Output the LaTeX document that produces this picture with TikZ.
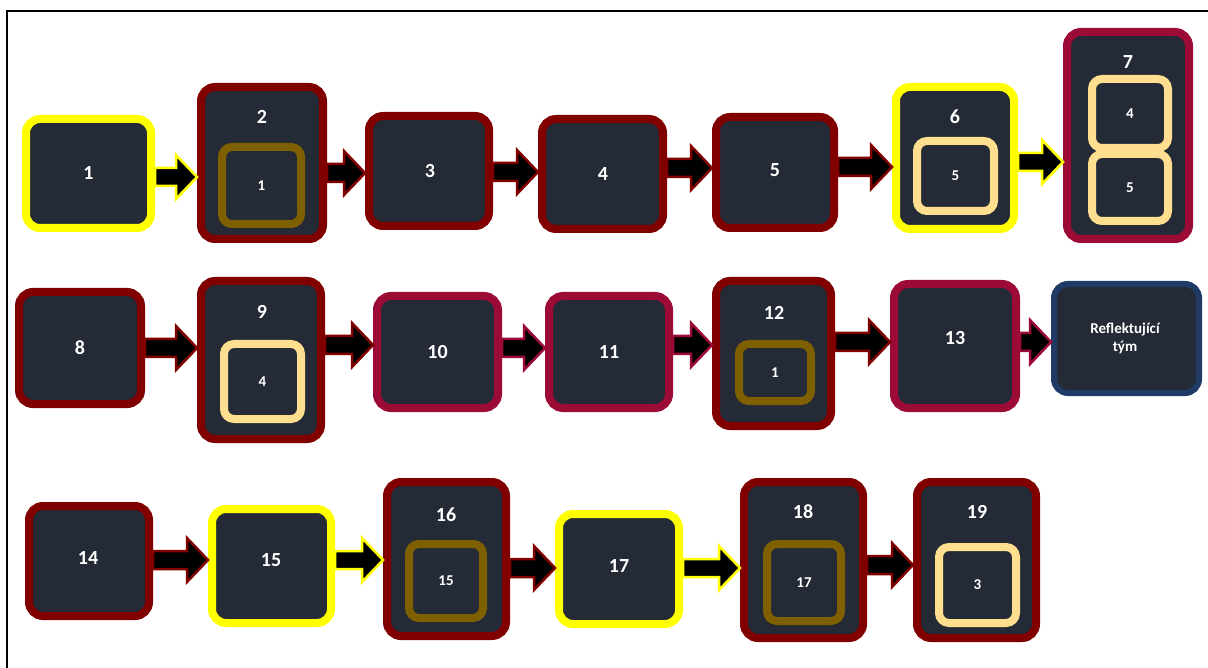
\documentclass[tikz,border=0pt]{standalone}
\usepackage{fontspec}
\setmainfont{Carlito}
\usetikzlibrary{calc}
\definecolor{dkfill}{HTML}{252B36}
\definecolor{dkred}{HTML}{800000}
\definecolor{crim}{HTML}{9C0A36}
\definecolor{ylw}{HTML}{FFFF00}
\definecolor{brn}{HTML}{7F6000}
\definecolor{crm}{HTML}{FFDF8F}
\definecolor{navyb}{HTML}{203A66}
\tikzset{
  boxbase/.style={rounded corners=14pt, fill=dkfill, line width=8pt, inner sep=0pt},
  redbox/.style={boxbase, draw=dkred},
  crimbox/.style={boxbase, draw=crim},
  ylwbox/.style={boxbase, draw=ylw},
  bluebox/.style={boxbase, draw=navyb, line width=6pt},
  inbase/.style={rounded corners=10pt, fill=dkfill, line width=8pt, inner sep=0pt},
  brnin/.style={inbase, draw=brn},
  crmin/.style={inbase, draw=crm},
  lbl/.style={text=white, font=\bfseries\fontsize{20}{22}\selectfont, inner sep=0pt},
  slbl/.style={text=white, font=\bfseries\fontsize{15}{17}\selectfont, inner sep=0pt},
}
\newcommand\bx[6]{\node[#2, minimum width={(#5-#3-8)*1pt}, minimum height={(#6-#4-8)*1pt}] (#1) at ({(#3+#5)/2},{(#4+#6)/2}) {};}
\newcommand\barrow[4]{%
  \path let \p1=(#1.east), \p2=(#2.west) in
  [draw=#3, fill=black, line width=2.5pt, line join=miter]
  (\x1,{-(#4+9)*1pt}) -- ({\x2-21pt},{-(#4+9)*1pt}) -- ({\x2-21pt},{-(#4+22)*1pt}) --
  ({\x2},{-#4*1pt}) -- ({\x2-21pt},{-(#4-22)*1pt}) -- ({\x2-21pt},{-(#4-9)*1pt}) --
  (\x1,{-(#4-9)*1pt}) -- cycle;}
\begin{document}
\begin{tikzpicture}[x=1pt,y=-1pt]
\useasboundingbox (0,0) rectangle (1208,668);
\coordinate (fa) at (6.5,668);
\coordinate (fb) at (6.5,11);
\coordinate (fc) at (1208,11);
\draw[line width=2pt] (fa) -- (fb) -- (fc);
% row 1
\bx{b1}{ylwbox}{22}{115}{155}{232}
\bx{b2}{redbox}{197}{83}{327}{243}
\bx{b2i}{brnin}{218}{143}{305}{228}
\bx{b3}{redbox}{365}{112}{493}{230}
\bx{b4}{redbox}{538}{115}{667}{233}
\bx{b5}{redbox}{712}{113}{838}{232}
\bx{b6}{ylwbox}{892}{83}{1018}{233}
\bx{b6i}{crmin}{913}{137}{998}{215}
\bx{b7}{crimbox}{1063}{28}{1193}{243}
\bx{b7a}{crmin}{1088}{75}{1172}{152}
\bx{b7b}{crmin}{1088}{150}{1172}{225}
\node[lbl] (t1) at (b1) {1};
\node[lbl] (t2) at (262,117) {2};
\node[slbl] (t2i) at (b2i) {1};
\node[lbl] (t3) at (430,171) {3};
\node[lbl] (t4) at (603,174) {4};
\node[lbl] (t5) at (775,170) {5};
\node[lbl] (t6) at (955,117) {6};
\node[slbl] (t6i) at (b6i) {5};
\node[lbl] (t7) at (1128,62) {7};
\node[slbl] (t7a) at (b7a) {4};
\node[slbl] (t7b) at (b7b) {5};
\barrow{b1}{b2}{ylw}{177}
\barrow{b2}{b3}{dkred}{173}
\barrow{b3}{b4}{dkred}{172}
\barrow{b4}{b5}{dkred}{168}
\barrow{b5}{b6}{dkred}{167}
\barrow{b6}{b7}{ylw}{162}
% row 2
\bx{b8}{redbox}{15}{288}{145}{408}
\bx{b9}{redbox}{197}{277}{325}{443}
\bx{b9i}{crmin}{220}{340}{305}{423}
\bx{b10}{crimbox}{373}{292}{502}{412}
\bx{b11}{crimbox}{545}{292}{673}{412}
\bx{b12}{redbox}{712}{277}{835}{430}
\bx{b12i}{brnin}{735}{340}{815}{405}
\bx{b13}{crimbox}{890}{280}{1020}{412}
\bx{br}{bluebox}{1050}{280}{1203}{397}
\node[lbl] (t8) at (b8) {8};
\node[lbl] (t9) at (262,312) {9};
\node[slbl] (t9i) at (b9i) {4};
\node[lbl] (t10) at (b10) {10};
\node[lbl] (t11) at (b11) {11};
\node[lbl] (t12) at (774,313) {12};
\node[slbl] (t12i) at (b12i) {1};
\node[lbl] (t13) at (955,338) {13};
\node[slbl, align=center] (tr) at (1125,338) {Reflektující\\[1pt]tým};
\barrow{b8}{b9}{dkred}{348}
\barrow{b9}{b10}{dkred}{345}
\barrow{b10}{b11}{crim}{348}
\barrow{b11}{b12}{crim}{345}
\barrow{b12}{b13}{dkred}{342}
\barrow{b13}{br}{crim}{342}
% row 3
\bx{b14}{redbox}{25}{502}{153}{620}
\bx{b15}{ylwbox}{208}{505}{335}{627}
\bx{b16}{redbox}{383}{478}{510}{640}
\bx{b16i}{brnin}{405}{540}{487}{622}
\bx{b17}{ylwbox}{555}{510}{683}{628}
\bx{b18}{redbox}{740}{478}{867}{642}
\bx{b18i}{brnin}{763}{540}{845}{625}
\bx{b19}{redbox}{913}{478}{1040}{642}
\bx{b19i}{crmin}{935}{543}{1020}{627}
\node[lbl] (t14) at (88,558) {14};
\node[lbl] (t15) at (271,560) {15};
\node[lbl] (t16) at (446,515) {16};
\node[slbl] (t16i) at (b16i) {15};
\node[lbl] (t17) at (619,566) {17};
\node[lbl] (t18) at (803,512) {18};
\node[slbl] (t18i) at (b18i) {17};
\node[lbl] (t19) at (977,512) {19};
\node[slbl] (t19i) at (b19i) {3};
\barrow{b14}{b15}{dkred}{560}
\barrow{b15}{b16}{ylw}{560}
\barrow{b16}{b17}{dkred}{568}
\barrow{b17}{b18}{ylw}{568}
\barrow{b18}{b19}{dkred}{565}
\end{tikzpicture}
\end{document}
